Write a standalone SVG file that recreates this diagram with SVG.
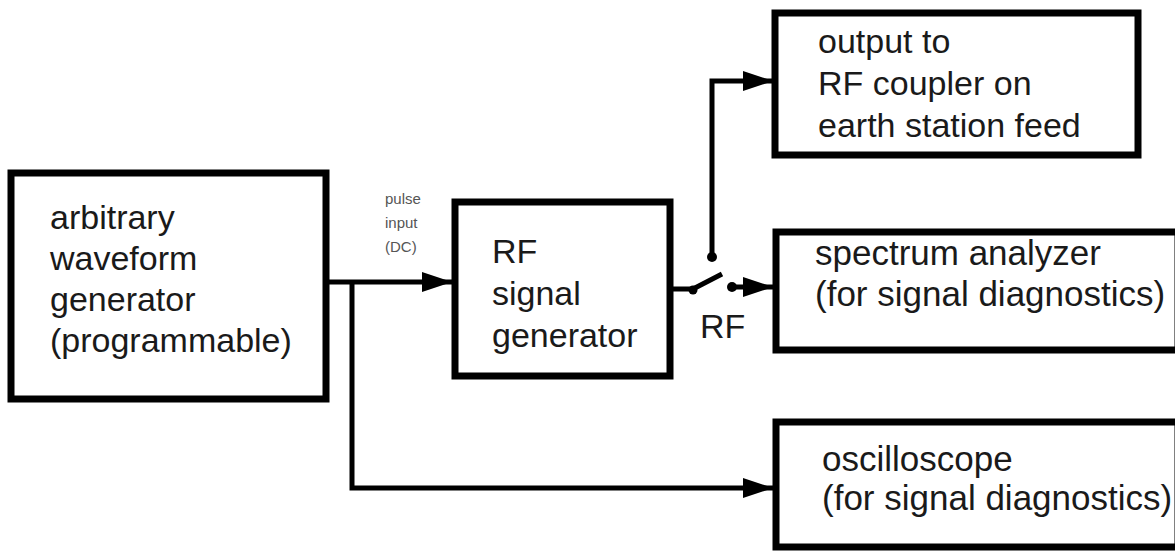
<svg xmlns="http://www.w3.org/2000/svg" width="1175" height="553" viewBox="0 0 1175 553">
<style>
.box{fill:#fff;stroke:#000;stroke-width:7}
.t{font-family:"Liberation Sans",Arial,sans-serif;font-size:34px;fill:#1a1a1a}
.r{font-size:35px}
.s{font-family:"Liberation Sans",Arial,sans-serif;font-size:15px;fill:#555}
.w{fill:none;stroke:#000;stroke-width:5}
</style>
<defs>
<marker id="ah" markerUnits="userSpaceOnUse" markerWidth="30" markerHeight="20" viewBox="0 0 30 20" refX="30" refY="10" orient="auto">
<path d="M0,0 L30,10 L0,20 z" fill="#000"/>
</marker>
</defs>
<rect width="1175" height="553" fill="#fff"/>
<g id="connectors">
<path class="w" d="M328,282 H452" marker-end="url(#ah)"/>
<path class="w" d="M352,282 V488 H773" marker-end="url(#ah)"/>
<path class="w" d="M672,289 H693 L722,274"/>
<circle cx="693" cy="290" r="4.5" fill="#000"/>
<circle cx="712" cy="257" r="5" fill="#000"/>
<path class="w" d="M712,257 V81 H773" marker-end="url(#ah)"/>
<circle cx="732" cy="287" r="5" fill="#000"/>
<path class="w" d="M732,287 H773" marker-end="url(#ah)"/>
<text class="t" x="700" y="338" font-size="33">RF</text>
<text class="s" x="385" y="204">pulse</text>
<text class="s" x="385" y="228">input</text>
<text class="s" x="385" y="252">(DC)</text>
</g>
<g id="awg">
<rect class="box" x="11" y="173" width="315" height="226"/>
<text class="t" x="50" y="229">arbitrary</text>
<text class="t" x="50" y="270">waveform</text>
<text class="t" x="50" y="311">generator</text>
<text class="t" x="50" y="352">(programmable)</text>
</g>
<g id="rfgen">
<rect class="box" x="455" y="202" width="215" height="174"/>
<text class="t" x="492" y="263">RF</text>
<text class="t" x="492" y="305">signal</text>
<text class="t" x="492" y="347">generator</text>
</g>
<g id="output">
<rect class="box" x="775" y="13" width="363" height="142"/>
<text class="t" x="818" y="53">output to</text>
<text class="t" x="818" y="95">RF coupler on</text>
<text class="t" x="818" y="137">earth station feed</text>
</g>
<g id="spectrum">
<rect class="box" x="776" y="232" width="402" height="118"/>
<text class="t r" x="815" y="265">spectrum analyzer</text>
<text class="t r" x="815" y="306">(for signal diagnostics)</text>
</g>
<g id="oscilloscope">
<rect class="box" x="776" y="422" width="402" height="125"/>
<text class="t r" x="822" y="471">oscilloscope</text>
<text class="t r" x="822" y="510">(for signal diagnostics)</text>
</g>
</svg>
